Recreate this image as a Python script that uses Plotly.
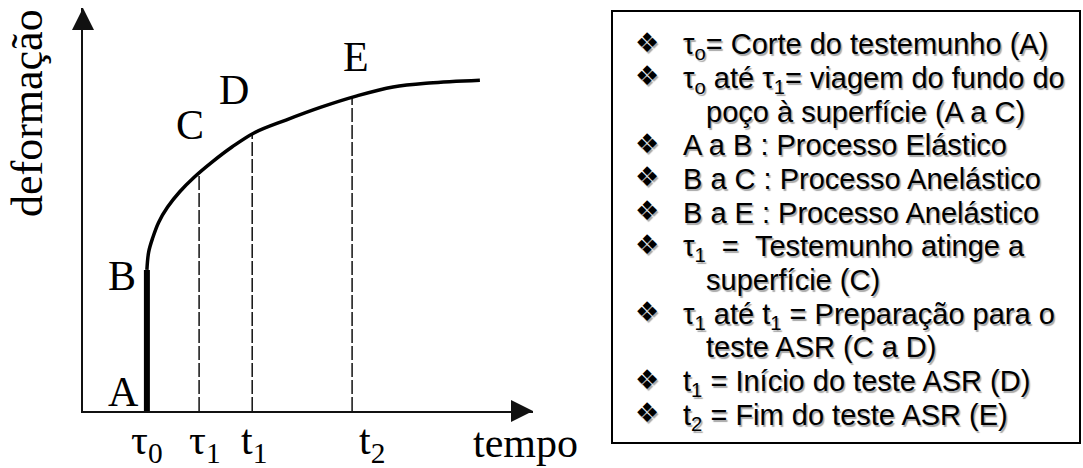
import numpy as np
import plotly.graph_objects as go

W, H = 1083, 468

# Creep curve: deformação versus tempo (schematic units)
tempo = [1.42, 1.46, 1.55, 1.68, 1.88, 2.15, 2.47, 2.86, 3.31, 3.80,
         4.51, 5.29, 6.09, 6.89, 7.69, 8.82]
deformacao = [3.50, 3.95, 4.30, 4.68, 5.06, 5.44, 5.80, 6.17, 6.55, 6.90,
              7.22, 7.54, 7.82, 8.04, 8.14, 8.21]

# Instants marked on the time axis
instantes = [1.42, 2.58, 3.76, 5.98]
instantes_rotulos = ["τ<sub>0</sub>", "τ<sub>1</sub>", "t<sub>1</sub>", "t<sub>2</sub>"]

# Elastic jump A -> B at τ0
salto_elastico = [0.0, 3.50]

# Point letters along the curve
pontos = ["A", "B", "C", "D", "E"]

# Legend box lines: (bullet?, text, indented?)
legenda = [
    (True, "τ<sub>o</sub>= Corte do testemunho (A)", False),
    (True, "τ<sub>o</sub> até τ<sub>1</sub>= viagem do fundo do", False),
    (False, "poço à superfície (A a C)", True),
    (True, "A a B : Processo Elástico", False),
    (True, "B a C : Processo Anelástico", False),
    (True, "B a E : Processo Anelástico", False),
    (True, "τ<sub>1</sub>  =  Testemunho atinge a", False),
    (False, "superfície (C)", True),
    (True, "τ<sub>1</sub> até t<sub>1</sub> = Preparação para o", False),
    (False, "teste ASR (C a D)", True),
    (True, "t<sub>1</sub> = Início do teste ASR (D)", False),
    (True, "t<sub>2</sub> = Fim do teste ASR (E)", False),
]


def fx(px):
    return px / W


def fy(py):
    return 1 - py / H


SERIF = "Liberation Serif, Times New Roman, serif"
SANS = "Liberation Sans, Arial, sans-serif"

fig = go.Figure()

# dashed guides from the time axis up to the curve
for t in instantes[1:]:
    topo = float(np.interp(t, tempo, deformacao))
    fig.add_trace(go.Scatter(
        x=[t, t], y=[0, topo], mode="lines",
        line=dict(color="#111", width=1.5, dash="14px,3px"),
        hoverinfo="skip"))

# elastic segment A-B
fig.add_trace(go.Scatter(
    x=[instantes[0], instantes[0]], y=salto_elastico, mode="lines",
    line=dict(color="black", width=6), hoverinfo="skip"))

# anelastic creep curve B-E
fig.add_trace(go.Scatter(
    x=tempo, y=deformacao, mode="lines",
    line=dict(color="black", width=3.5, shape="spline", smoothing=1.0),
    hoverinfo="skip"))

ann = []

# axis arrowheads
for (hx, hy, tx, ty) in [(10, 0, 9.5, 0), (0, 10, 0, 9.5)]:
    ann.append(dict(x=hx, y=hy, ax=tx, ay=ty, xref="x", yref="y",
                    axref="x", ayref="y", text="", showarrow=True,
                    arrowhead=2, arrowsize=2.2, arrowwidth=2, arrowcolor="#111"))

# time-axis instant labels
desloc = [0, 6, 2, 20]
for t, rot, dx in zip(instantes, instantes_rotulos, desloc):
    ann.append(dict(x=t, y=fy(415), xref="x", yref="paper", text=rot,
                    showarrow=False, xanchor="center", yanchor="top", xshift=dx,
                    font=dict(family=SERIF, size=42, color="black")))

# axis titles
ann.append(dict(x=fx(471), y=fy(418), xref="paper", yref="paper", text="tempo",
                showarrow=False, xanchor="left", yanchor="top",
                font=dict(family=SERIF, size=42, color="black")))
ann.append(dict(x=fx(27), y=fy(113), xref="paper", yref="paper", text="deformação",
                showarrow=False, textangle=-90, xanchor="center", yanchor="middle",
                font=dict(family=SERIF, size=44, color="black")))

# point letters
pos_letras = [(123, 392), (122, 276), (190, 125), (234, 90), (356, 57)]
for p, (lx, ly) in zip(pontos, pos_letras):
    ann.append(dict(x=fx(lx), y=fy(ly), xref="paper", yref="paper", text=p,
                    showarrow=False, xanchor="center", yanchor="middle",
                    font=dict(family=SERIF, size=42, color="black")))

# legend box text
FS = 29
sombra = "1.5px 1.5px 1px #a8a8a8"
for i, (bullet, txt, indent) in enumerate(legenda):
    yc = 42 + 33.7 * i
    if bullet:
        ann.append(dict(x=fx(647), y=fy(yc), xref="paper", yref="paper", text="❖",
                        showarrow=False, xanchor="center", yanchor="middle",
                        font=dict(family="DejaVu Sans", size=27, color="black",
                                  shadow=sombra)))
    ann.append(dict(x=fx(681 + (23 if indent else 0)), y=fy(yc - 0.547 * FS),
                    xref="paper", yref="paper", text=txt, showarrow=False,
                    xanchor="left", yanchor="top",
                    font=dict(family=SANS, size=FS, color="black", shadow=sombra)))

fig.add_shape(type="rect", xref="paper", yref="paper",
              x0=fx(612), x1=fx(1080), y0=fy(443), y1=fy(11),
              line=dict(color="black", width=2), fillcolor="rgba(0,0,0,0)")

fig.update_layout(
    width=W, height=H,
    margin=dict(l=0, r=0, t=0, b=0),
    paper_bgcolor="white", plot_bgcolor="white",
    showlegend=False,
    annotations=ann,
    xaxis=dict(domain=[fx(83), fx(533)], range=[0, 10], showgrid=False,
               zeroline=False, showticklabels=False, ticks="",
               showline=True, linecolor="#111", linewidth=2, fixedrange=True),
    yaxis=dict(domain=[fy(411), fy(8)], range=[0, 10], showgrid=False,
               zeroline=False, showticklabels=False, ticks="",
               showline=True, linecolor="#111", linewidth=2, fixedrange=True),
)

fig.write_html("out.html")
